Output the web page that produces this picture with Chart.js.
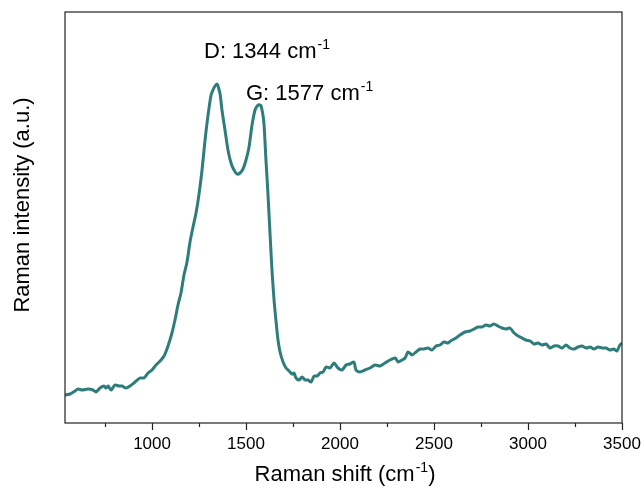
<!DOCTYPE html>
<html>
<head>
<meta charset="utf-8">
<script src="https://cdn.jsdelivr.net/npm/chart.js@4/dist/chart.umd.min.js"></script>
<style>
  html, body { margin: 0; padding: 0; background: #fff; }
  #wrap { width: 644px; height: 490px; }
</style>
</head>
<body>
<div id="wrap"><canvas id="myChart" width="644" height="490"></canvas></div>
<script>
// Raman shift (cm-1)
const shift = [537, 564, 590, 606, 628, 660, 686, 702, 723, 745, 755, 766, 782, 803, 824, 840, 862, 883, 910, 936,
  957, 979, 1000, 1021, 1043, 1064, 1085, 1106, 1122, 1138, 1154, 1170, 1186, 1202, 1218, 1234, 1250, 1266, 1282, 1298,
  1314, 1324, 1335, 1346, 1351, 1362, 1372, 1388, 1404, 1420, 1436, 1452, 1468, 1484, 1500, 1516, 1532, 1548, 1564, 1574,
  1580, 1590, 1596, 1606, 1617, 1628, 1638, 1649, 1660, 1670, 1681, 1697, 1713, 1729, 1745, 1755, 1766, 1782, 1798, 1814,
  1830, 1846, 1862, 1878, 1894, 1910, 1926, 1947, 1968, 1989, 2011, 2032, 2053, 2074, 2085, 2106, 2133, 2160, 2186, 2213,
  2239, 2266, 2293, 2309, 2330, 2346, 2362, 2383, 2404, 2426, 2447, 2468, 2489, 2511, 2532, 2553, 2574, 2596, 2617, 2638,
  2665, 2691, 2713, 2734, 2755, 2777, 2798, 2819, 2840, 2862, 2883, 2904, 2926, 2947, 2968, 2989, 3011, 3032, 3053, 3074,
  3096, 3117, 3138, 3160, 3181, 3202, 3223, 3245, 3266, 3287, 3309, 3330, 3351, 3372, 3394, 3415, 3436, 3457, 3473, 3489, 3500]

// intensity (a.u.)
const intensity = [28, 29, 32, 34, 33, 34, 33, 31, 35, 37, 35, 37, 33, 38, 37, 37, 35, 37, 41, 45,
  45, 50, 53, 58, 62, 67, 77, 90, 103, 118, 130, 148, 161, 181, 196, 210, 229, 253, 283, 308,
  328, 333, 337, 339, 337, 329, 313, 293, 273, 260, 253, 249, 250, 254, 263, 276, 298, 313, 318, 318,
  317, 308, 298, 263, 228, 188, 153, 123, 101, 83, 71, 61, 55, 52, 49, 50, 45, 43, 46, 43,
  43, 41, 47, 47, 50, 51, 56, 55, 60, 55, 53, 58, 59, 61, 53, 51, 53, 55, 58, 57,
  60, 63, 65, 61, 63, 65, 71, 68, 71, 74, 74, 75, 73, 77, 78, 81, 80, 83, 85, 88,
  91, 92, 94, 96, 96, 98, 97, 99, 97, 95, 94, 95, 90, 87, 85, 83, 82, 79, 80, 78,
  79, 75, 77, 77, 75, 78, 75, 74, 76, 77, 75, 76, 74, 76, 75, 75, 73, 74, 72, 78, 80]

const xTicks = [1000, 1500, 2000, 2500, 3000, 3500]
const xMinorTicks = [750, 1250, 1750, 2250, 2750, 3250]

const peaks = [
  { label: 'D: 1344 cm', x: 204, y: 58 },
  { label: 'G: 1577 cm', x: 246, y: 100 }
]

const FONT = '"Liberation Sans", Arial, sans-serif'

// draws the frame, tick marks, axis titles and peak labels
const decor = {
  id: 'decor',
  afterDraw(chart) {
    const ctx = chart.ctx
    const a = chart.chartArea
    const xs = chart.scales.x
    ctx.save()
    ctx.strokeStyle = '#222'
    ctx.lineWidth = 1.2
    ctx.strokeRect(a.left, a.top, a.right - a.left, a.bottom - a.top)

    xTicks.forEach(v => {
      const px = Math.round(xs.getPixelForValue(v)) + 0.5
      ctx.beginPath(); ctx.moveTo(px, a.bottom); ctx.lineTo(px, a.bottom + 7); ctx.stroke()
    })
    xMinorTicks.forEach(v => {
      const px = Math.round(xs.getPixelForValue(v)) + 0.5
      ctx.beginPath(); ctx.moveTo(px, a.bottom); ctx.lineTo(px, a.bottom + 4); ctx.stroke()
    })

    ctx.fillStyle = '#000'
    ctx.textBaseline = 'alphabetic'

    // text with superscript -1
    const supText = (txt, x, y, size, align) => {
      ctx.font = size + 'px ' + FONT
      const w1 = ctx.measureText(txt).width
      ctx.font = Math.round(size * 0.62) + 'px ' + FONT
      const w2 = ctx.measureText('-1').width
      ctx.font = size + 'px ' + FONT
      const w3 = align === 'center' ? ctx.measureText(')').width : 0
      let start = x
      if (align === 'center') start = x - (w1 + w2 + w3) / 2
      ctx.textAlign = 'left'
      ctx.fillText(txt, start, y)
      ctx.font = Math.round(size * 0.62) + 'px ' + FONT
      ctx.fillText('-1', start + w1 + 1, y - size * 0.42)
      if (align === 'center') {
        ctx.font = size + 'px ' + FONT
        ctx.fillText(')', start + w1 + w2 + 1, y)
      }
    }

    supText('Raman shift (cm', (a.left + a.right) / 2 + 1, 481, 22, 'center')
    peaks.forEach(p => supText(p.label, p.x, p.y, 22, 'left'))

    ctx.translate(29, 205)
    ctx.rotate(-Math.PI / 2)
    ctx.textAlign = 'center'
    ctx.font = '22px ' + FONT
    ctx.fillText('Raman intensity (a.u.)', 0, 0)
    ctx.restore()
  }
}

const data = {
  datasets: [{
    label: 'Raman',
    data: shift.map((x, i) => ({ x: x, y: intensity[i] })),
    borderColor: 'rgb(46, 125, 123)',
    borderWidth: 3,
    pointRadius: 0,
    tension: 0.25,
    fill: false
  }]
}

const config = {
  type: 'line',
  data: data,
  options: {
    responsive: false,
    animation: false,
    layout: { padding: { left: 65, right: 22, top: 12, bottom: 0 } },
    plugins: {
      legend: { display: false },
      tooltip: { enabled: false }
    },
    scales: {
      x: {
        type: 'linear',
        min: 537,
        max: 3500,
        afterBuildTicks: (scale) => { scale.ticks = xTicks.map(v => ({ value: v })) },
        afterFit: (scale) => {
          scale.height = 67
          scale.paddingLeft = 0
          scale.paddingRight = 0
        },
        grid: { display: false, drawTicks: false },
        border: { display: false },
        ticks: {
          padding: 11,
          color: '#000',
          maxRotation: 0,
          autoSkip: false,
          font: { family: FONT, size: 17 },
          callback: (v) => String(v)
        }
      },
      y: {
        display: false,
        min: 0,
        max: 411
      }
    }
  },
  plugins: [decor]
}

new Chart(document.getElementById('myChart'), config)
</script>
</body>
</html>
